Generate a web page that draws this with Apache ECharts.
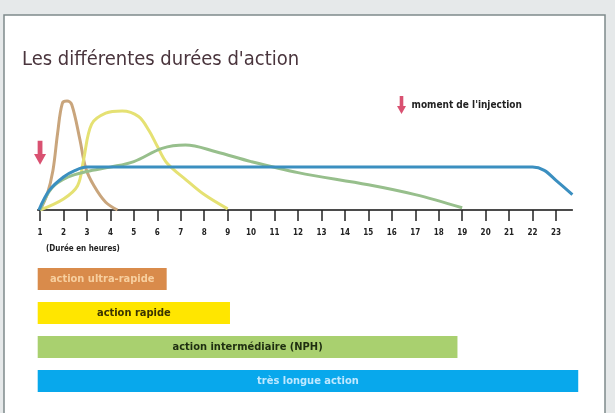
<!DOCTYPE html>
<html>
<head>
<meta charset="utf-8">
<script src="https://cdn.jsdelivr.net/npm/echarts@6/dist/echarts.min.js"></script>
<style>
  html, body { margin: 0; padding: 0; background: #e6e9ea; }
  #chart { width: 615px; height: 413px; }
</style>
</head>
<body>
<div id="chart"></div>
<script>
// Hour ticks shown under the curves
const hours = [1,2,3,4,5,6,7,8,9,10,11,12,13,14,15,16,17,18,19,20,21,22,23];

// Action profiles: [hour, relative level]
const ultraRapide = [[1,0],[1.3,14],[1.55,36],[1.75,70],[1.95,97],[2.15,99],[2.35,96],[2.7,64],[2.95,38],[3.3,22],[3.8,7],[4.3,0]];
const rapide = [[1,0],[2,10],[2.6,22],[2.85,45],[3.2,78],[3.8,88],[4.5,90],[5.2,85],[5.65,72],[6,58],[6.4,43],[7.25,27],[8,14],[9,1]];
const intermediaire = [[1,0],[1.5,20],[2.2,30],[3,35],[4,39],[5,44],[6.2,56],[7.2,59],[8.5,53],[10,44],[12,34],[15,23],[17,14],[19,2]];
const lente = [[0.95,0],[1.4,18],[2,30],[2.5,36],[3,39],[4,39],[21,39],[22,39],[22.5,36],[23,27],[23.7,14]];

// Injection moment marker
const injection = [[1,52]];

// Duration bars
const barNames = ['action ultra-rapide','action rapide','action intermédiaire (NPH)','très longue action'];
const barStart = [0.9, 0.9, 0.9, 0.9];
const barEnd = [6.4, 9.1, 18.8, 23.95];

const barColors = ['#d98b4b', '#ffe600', '#a9d06f', '#08a8ec'];
const barLabelColors = ['#f7cf9f', '#3a3300', '#1e2e10', '#bfe8ff'];

const arrowPath = 'path://M3,0 L7,0 L7,11 L10,11 L5,20 L0,11 L3,11 Z';
const narrow = '"Liberation Sans Narrow", "DejaVu Sans Condensed", "Liberation Sans", sans-serif';

const chart = echarts.init(document.getElementById('chart'), null, { renderer: 'canvas' });

const lineSeries = (name, data, color) => ({
  name: name,
  type: 'line',
  xAxisIndex: 0,
  yAxisIndex: 0,
  data: data,
  smooth: 0.35,
  showSymbol: false,
  lineStyle: { color: color, width: 3 },
  z: 3
});

chart.setOption({
  backgroundColor: '#e6e9ea',
  animation: false,
  graphic: [{
    type: 'rect',
    shape: { x: 4, y: 15, width: 601, height: 410 },
    style: { fill: '#ffffff', stroke: '#7f8a8c', lineWidth: 1.5 },
    z: -10
  }],
  title: [{
    text: 'Les différentes durées d\'action',
    left: 17, top: 45,
    textStyle: { fontFamily: narrow, fontSize: 20, fontWeight: 'normal', color: '#4a353d' }
  }, {
    text: '(Durée en heures)',
    left: 41, top: 240,
    textStyle: { fontFamily: narrow, fontSize: 8, fontWeight: 'bold', color: '#222' }
  }],
  legend: {
    data: [{ name: 'moment de l\'injection', icon: arrowPath }],
    left: 392, top: 91,
    itemWidth: 10, itemHeight: 18, itemGap: 4,
    textStyle: { fontFamily: narrow, fontSize: 10, fontWeight: 'bold', color: '#222' }
  },
  grid: [
    { left: 37.7, right: 42.6, top: 100, height: 110 },
    { left: 37.7, width: 541.7, top: 262, height: 136 }
  ],
  xAxis: [{
    type: 'value', gridIndex: 0, min: 0.9, max: 23.7,
    splitLine: { show: false },
    axisLine: { show: true, lineStyle: { color: '#111', width: 1.5 } },
    axisTick: { show: true, customValues: hours, length: 11, lineStyle: { color: '#222', width: 1.5 } },
    axisLabel: { customValues: hours, margin: 19, fontFamily: narrow, fontSize: 8, fontWeight: 'bold', color: '#222' }
  }, {
    type: 'value', gridIndex: 1, min: 0.9, max: 24, show: false
  }],
  yAxis: [{
    type: 'value', gridIndex: 0, min: 0, max: 100, show: false
  }, {
    type: 'category', gridIndex: 1, data: barNames, inverse: true, show: false
  }],
  series: [
    lineSeries('action ultra-rapide', ultraRapide, '#c9a57c'),
    lineSeries('action rapide', rapide, '#e5e173'),
    lineSeries('action intermédiaire (NPH)', intermediaire, '#97bf8c'),
    lineSeries('très longue action', lente, '#3b8fc0'),
    {
      name: 'moment de l\'injection',
      type: 'scatter',
      data: injection,
      symbol: arrowPath,
      symbolSize: [12, 24],
      itemStyle: { color: '#d0264e' },
      z: 5
    },
    {
      type: 'bar',
      xAxisIndex: 1, yAxisIndex: 1,
      stack: 'duree',
      data: barStart,
      barWidth: 22,
      itemStyle: { color: 'transparent' },
      silent: true
    },
    {
      type: 'bar',
      xAxisIndex: 1, yAxisIndex: 1,
      stack: 'duree',
      barWidth: 22,
      data: barEnd.map((e, i) => ({
        value: +(e - barStart[i]).toFixed(2),
        itemStyle: { color: barColors[i] },
        label: { color: barLabelColors[i] }
      })),
      label: {
        show: true,
        position: 'inside',
        formatter: (p) => barNames[p.dataIndex],
        fontFamily: narrow, fontSize: 11, fontWeight: 'bold'
      }
    }
  ]
});
</script>
</body>
</html>
